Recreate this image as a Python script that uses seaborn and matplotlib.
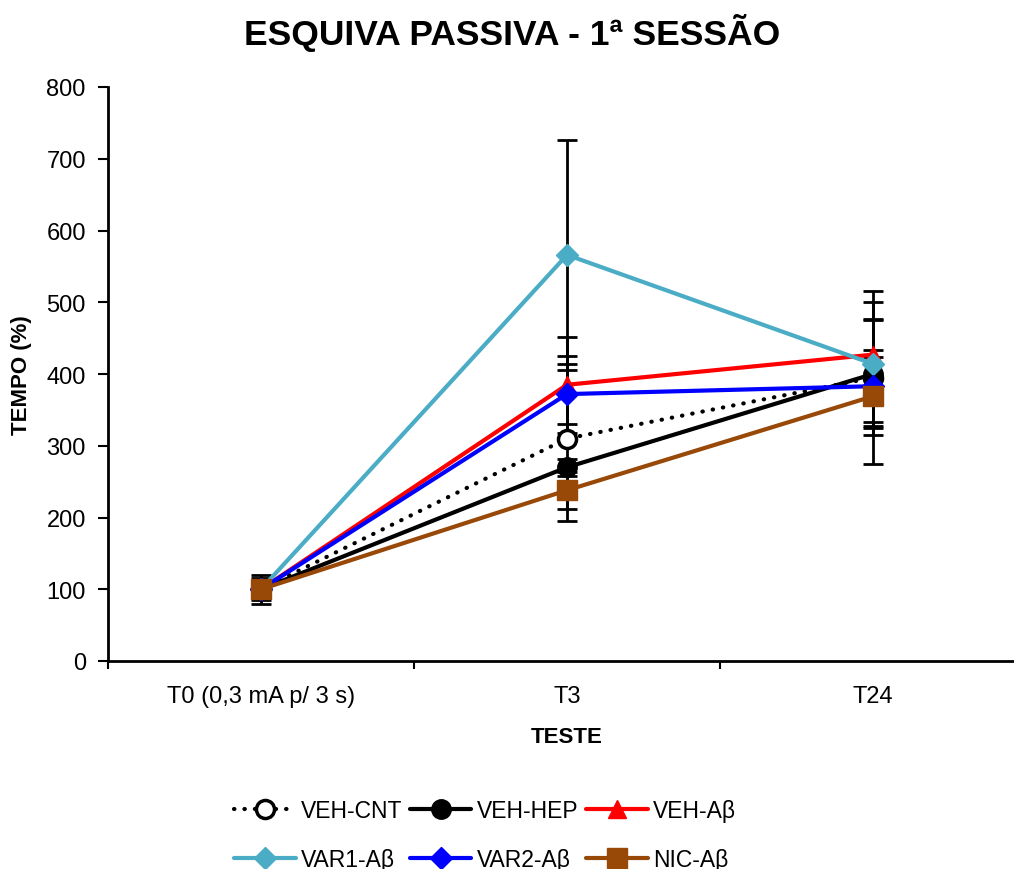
import numpy as np
import pandas as pd
import matplotlib
matplotlib.use("Agg")
import matplotlib.pyplot as plt
import seaborn as sns

# ---- data ----
categories = ["T0 (0,3 mA p/ 3 s)", "T3", "T24"]
groups = ["VEH-CNT", "VEH-HEP", "VEH-Aβ", "VAR1-Aβ", "VAR2-Aβ", "NIC-Aβ"]

veh_cnt = [100, 310, 395]
veh_hep = [100, 270, 400]
veh_ab = [100, 385, 427]
var1_ab = [100, 566, 414]
var2_ab = [100, 372, 383]
nic_ab = [100, 238, 369]

veh_cnt_err = [12, 115, 120]
veh_hep_err = [20, 12, 75]
veh_ab_err = [10, 67, 50]
var1_ab_err = [8, 160, 87]
var2_ab_err = [10, 42, 50]
nic_ab_err = [15, 26, 54]

yticks = [0, 100, 200, 300, 400, 500, 600, 700, 800]

values = [veh_cnt, veh_hep, veh_ab, var1_ab, var2_ab, nic_ab]
errors = [veh_cnt_err, veh_hep_err, veh_ab_err, var1_ab_err, var2_ab_err, nic_ab_err]

styles = {
    "VEH-CNT": dict(color="black", ls=(0, (0.1, 2.4)), marker="o", mfc="white", mec="black", ms=13, mew=2.5),
    "VEH-HEP": dict(color="black", ls="-", marker="o", mfc="black", mec="black", ms=14, mew=1),
    "VEH-Aβ": dict(color="#FF0000", ls="-", marker="^", mfc="#FF0000", mec="#FF0000", ms=13, mew=1),
    "VAR1-Aβ": dict(color="#4BACC6", ls="-", marker="D", mfc="#4BACC6", mec="#4BACC6", ms=11, mew=1),
    "VAR2-Aβ": dict(color="#0000FF", ls="-", marker="D", mfc="#0000FF", mec="#0000FF", ms=11, mew=1),
    "NIC-Aβ": dict(color="#984807", ls="-", marker="s", mfc="#984807", mec="#984807", ms=15, mew=1),
}

sns.set_theme(style="white")
plt.rcParams['font.family'] = ['Liberation Sans', 'DejaVu Sans']
plt.rcParams.update({"text.color": "black", "axes.labelcolor": "black",
                     "xtick.color": "black", "ytick.color": "black"})

fig = plt.figure(figsize=(10.14, 8.7), dpi=100)
ax = fig.add_axes([108 / 1014, (870 - 662) / 870, 918 / 1014, 574 / 870])

x = np.arange(len(categories))

# error bars
for vals, errs in zip(values, errors):
    ax.errorbar(x, vals, yerr=errs, fmt="none", ecolor="black", elinewidth=2,
                capsize=7.5, capthick=2, zorder=2)

handles = {}
for g, vals in zip(groups, values):
    st = styles[g]
    df = pd.DataFrame({"x": x, "y": vals})
    sns.lineplot(data=df, x="x", y="y", ax=ax, color=st["color"], linewidth=3,
                 linestyle=st["ls"] if isinstance(st["ls"], str) else "-",
                 marker=st["marker"], markersize=st["ms"], markerfacecolor=st["mfc"],
                 markeredgecolor=st["mec"], markeredgewidth=st["mew"], zorder=3, label=g)
    line = ax.lines[-1]
    if not isinstance(st["ls"], str):
        line.set_linestyle(st["ls"])
        line.set_dash_capstyle("round")
    handles[g] = line

ax.set_xlim(-0.489, 2.5)
ax.set_ylim(0, 800)
ax.set_yticks(yticks)
ax.set_yticklabels([str(t) for t in yticks], fontsize=17)
ax.set_xticks([-0.5, 0.5, 1.5, 2.5])
ax.set_xticklabels([])
ax.set_xticks(x, minor=True)
ax.set_xticklabels(categories, minor=True, fontsize=17)
ax.tick_params(axis="x", which="minor", length=0, pad=17)
ax.tick_params(axis="x", which="major", length=6, width=1.5, direction="out", color="black", bottom=True)
ax.tick_params(axis="y", length=7, width=1.5, direction="out", color="black", left=True, pad=9)

for s in ["top", "right"]:
    ax.spines[s].set_visible(False)
for s in ["left", "bottom"]:
    ax.spines[s].set_color("black")
    ax.spines[s].set_linewidth(2)

ax.set_xlabel("TESTE", fontsize=16, fontweight="bold", labelpad=14)
ax.set_ylabel("TEMPO (%)", fontsize=16, fontweight="bold", labelpad=10)

fig.text(0.505, 0.962, "ESQUIVA PASSIVA - 1ª SESSÃO", ha="center", va="center",
         fontsize=25.5, fontweight="bold")

leg_order = ["VEH-CNT", "VAR1-Aβ", "VEH-HEP", "VAR2-Aβ", "VEH-Aβ", "NIC-Aβ"]
if ax.get_legend() is not None:
    ax.get_legend().remove()
fig.legend([handles[g] for g in leg_order], leg_order, loc="center",
           bbox_to_anchor=(485 / 1014, (870 - 836) / 870), ncol=3, frameon=False,
           fontsize=16.5, handlelength=2.7, numpoints=1, columnspacing=0.3,
           handletextpad=0.25, labelspacing=1.1)

fig.savefig("out.png", dpi=100)
